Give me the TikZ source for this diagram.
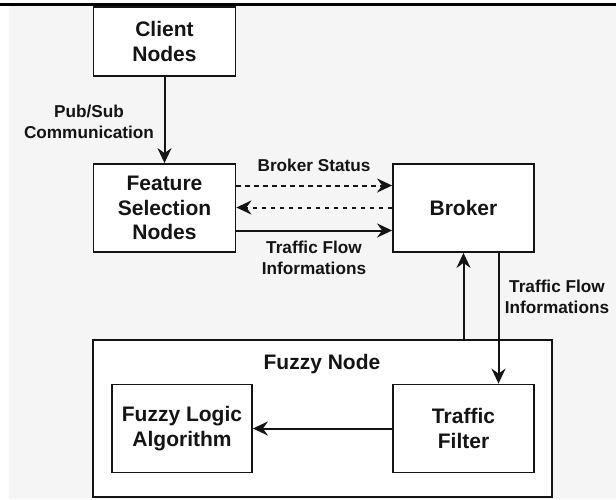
\documentclass[tikz,border=0pt]{standalone}
\usepackage{fontspec}
\setmainfont{Liberation Sans}
\usetikzlibrary{arrows.meta}
\definecolor{canvas}{HTML}{F5F5F5}
\definecolor{ink}{HTML}{141414}
\begin{document}
\begin{tikzpicture}[x=1pt,y=-1pt,
  box/.style={draw=ink, fill=white, line width=1.8pt, inner sep=0pt,
    align=center, text=ink, font=\fontsize{21}{24.5}\selectfont\bfseries},
  title/.style={inner sep=0pt, text=ink, font=\fontsize{21}{24.5}\selectfont\bfseries},
  lbl/.style={inner sep=0pt, align=center, text=ink,
    font=\fontsize{17.2}{21}\selectfont\bfseries},
  arr/.style={draw=ink, line width=2pt,
    -{Stealth[length=15pt,width=14pt,inset=5pt]}},
  dashline/.style={dash pattern=on 4.5pt off 4.5pt}
]
\useasboundingbox (0,0) rectangle (616,499);
% canvas and top rule
\fill[canvas] (9,6) rectangle (616,499);
\fill[black] (0,3) rectangle (616,6);

% outer container
\node[box, minimum width=459pt, minimum height=157pt] (fuzzy) at (322.5,418.5) {};
\node[title] (fuzzytitle) at (322,364) {Fuzzy Node};

% blocks
\node[box, minimum width=142pt, minimum height=69pt] (client) at (164.5,41.5) {Client\\Nodes};
\node[box, minimum width=142pt, minimum height=88pt] (feature) at (164.5,208) {Feature\\Selection\\Nodes};
\node[box, minimum width=141pt, minimum height=88pt] (broker) at (463.5,208) {Broker};
\node[box, minimum width=140pt, minimum height=88pt] (logic) at (182,428.5) {Fuzzy Logic\\Algorithm};
\node[box, minimum width=141pt, minimum height=88pt] (filter) at (463.5,428.5) {Traffic\\Filter};

% connectors
\draw[arr, dashline] ([yshift=22.5pt]feature.east) -- ([yshift=22.5pt]broker.west);
\draw[arr, dashline] ([yshift=0.5pt]broker.west) -- ([yshift=0.5pt]feature.east);
\draw[arr] (client) -- (feature);
\draw[arr] ([yshift=-22.5pt]feature.east) -- ([yshift=-22.5pt]broker.west);
\draw[arr] (broker.south |- fuzzy.north) -- (broker.south);
\coordinate (down) at ([xshift=35pt]broker.south);
\draw[arr] (down) -- (down |- filter.north);
\draw[arr] (filter.west) -- (logic.east);

% connector labels
\node[lbl] (pubsub) at (89,121.5) {Pub/Sub\\Communication};
\node[lbl] (status) at (314,165.5) {Broker Status};
\node[lbl] (flowa) at (314,258) {Traffic Flow\\Informations};
\node[lbl] (flowb) at (557,297) {Traffic Flow\\Informations};
\end{tikzpicture}
\end{document}
